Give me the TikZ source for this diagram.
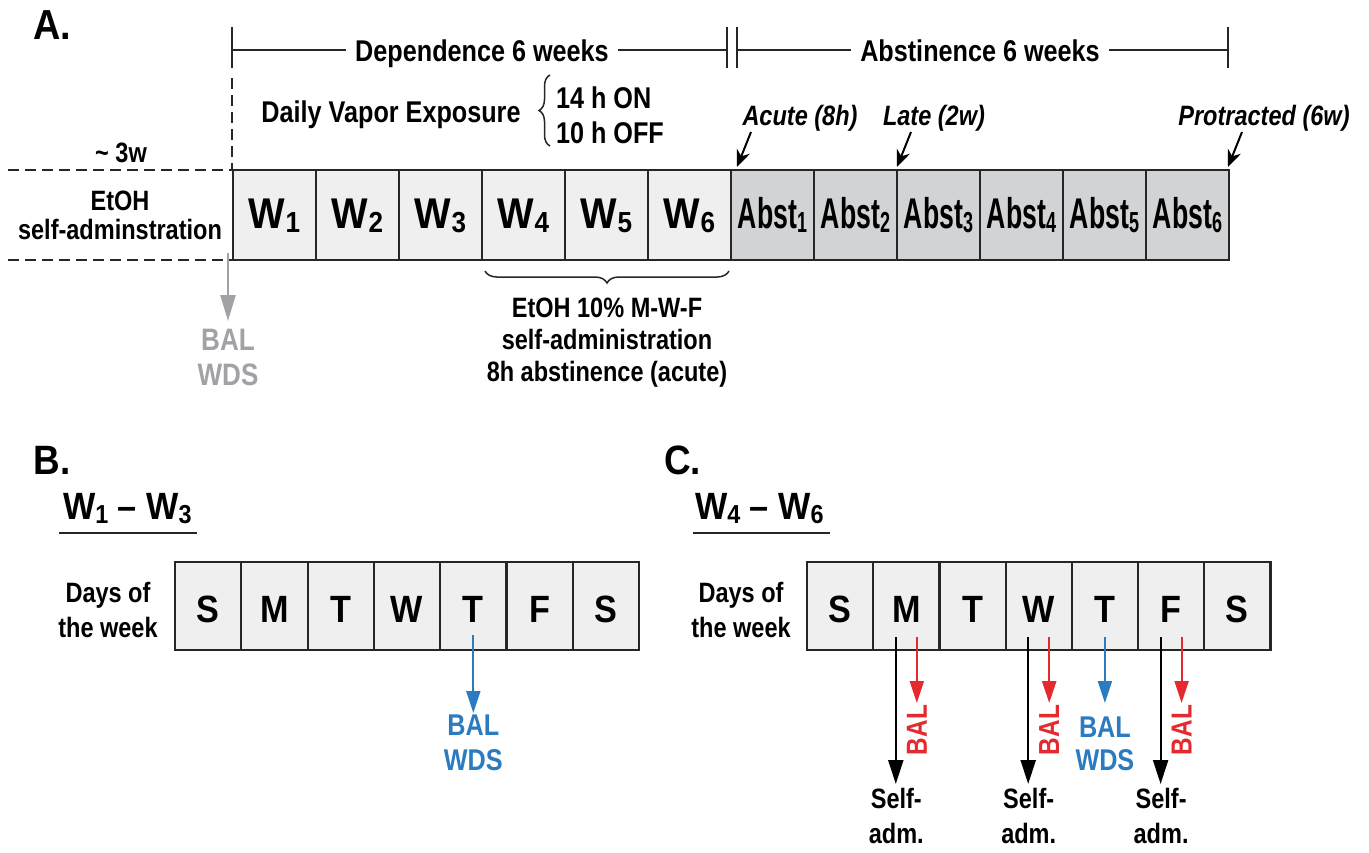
\documentclass[tikz,border=0pt]{standalone}
\usepackage{fontspec}
\setmainfont{Liberation Sans}[FakeStretch=0.84]
\newfontfamily\wfont{Liberation Sans}[FakeStretch=0.9]
\newfontfamily\abfont{Liberation Sans}[FakeStretch=0.62]
\usetikzlibrary{arrows.meta,decorations.pathreplacing,calc}
\definecolor{wfill}{HTML}{EFEFEF}
\definecolor{afill}{HTML}{D1D3D4}
\definecolor{grayc}{HTML}{A0A2A5}
\definecolor{myblue}{HTML}{2B7BC0}
\definecolor{myred}{HTML}{E42A2E}
\definecolor{edge}{HTML}{262626}
\newcommand\fs[1]{\fontsize{#1}{#1}\selectfont\bfseries}
\newcommand\lsub[2]{\raisebox{-4pt}{\fontsize{#1}{#1}\selectfont #2}}
\begin{document}
\begin{tikzpicture}[x=1pt,y=-1pt,
  every node/.style={inner sep=0pt,outer sep=0pt},
  wbox/.style={draw=edge,line width=2.2pt,fill=wfill,minimum width=83pt,minimum height=90pt,text height=26pt,text depth=0pt,font=\wfont\fs{43}},
  abox/.style={wbox,fill=afill,font=\abfont\fs{43}},
  dbox/.style={draw=edge,line width=2.2pt,fill=wfill,minimum width=66.3pt,minimum height=88pt,text height=32pt,text depth=0pt,font=\wfont\fs{38}},
  brk/.style={line width=1.7pt,draw=edge},
  dline/.style={line width=2pt,dash pattern=on 11pt off 6pt,draw=edge},
  sarr/.style={-{Stealth[length=17pt,width=14pt]},line width=2pt},
  blk/.style={-{Triangle[length=24pt,width=15pt]},line width=2.1pt,draw=black},
  redarr/.style={-{Triangle[length=22pt,width=14pt]},line width=2.1pt,draw=myred},
  bluearr/.style={-{Triangle[length=22pt,width=14pt]},line width=2.1pt,draw=myblue},
  grayarr/.style={-{Triangle[length=26pt,width=15pt]},line width=2.2pt,draw=grayc},
  txt/.style={font=\fs{28},anchor=base},
  big/.style={font=\fs{30},anchor=base},
  days/.style={font=\fs{28},anchor=base},
  lab/.style={font=\fs{28}\itshape,anchor=base},
  brc/.style={decorate,line width=1.5pt,draw=edge}
]
\useasboundingbox (0,0) rectangle (1369,852);

% ---------------- Panel A ----------------
\node[font=\wfont\fs{42},anchor=base west] (A) at (33,39) {A.};
\draw[brk] (232,50) -- (727,50);
\draw[brk] (737,50) -- (1228,50);
\draw[brk] (232,27) -- (232,68);
\draw[brk] (727,27) -- (727,68);
\draw[brk] (737,27) -- (737,68);
\draw[brk] (1228,27) -- (1228,68);
\node[big,fill=white,inner xsep=9pt] (dep) at (482,61) {Dependence 6 weeks};
\node[big,fill=white,inner xsep=9pt] (abs) at (980,61) {Abstinence 6 weeks};

\node[big] (dve) at (391,122) {Daily Vapor Exposure};
\draw[brc,decoration={brace,amplitude=11pt}] (550,146) -- (550,75);
\node[font=\fs{30},anchor=base west] (on) at (556,108) {14 h ON};
\node[font=\fs{30},anchor=base west] (off) at (556,143) {10 h OFF};

\draw[dline] (8,170) -- (232,170);
\draw[dline] (8,260) -- (232,260);
\draw[dline] (232,78) -- (232,170);

\node[txt] (tw) at (121,162) {\textasciitilde{} 3w};
\node[txt] (etoh) at (120,210) {EtOH};
\node[txt] (sa) at (120,239) {self-adminstration};

\foreach \i in {1,...,6}{
  \node[wbox] (w\i) at ({233+83*(\i-0.5)},215) {W\lsub{29}{\i}};
  \node[abox] (a\i) at ({731+83*(\i-0.5)},215) {Abst\lsub{29}{\i}};
}

\node[lab] (acute) at (800,125) {Acute (8h)};
\node[lab] (late) at (934,125) {Late (2w)};
\node[lab] (prot) at (1264,125) {Protracted (6w)};
\coordinate (acS) at (751,132); \coordinate (acE) at (737,167);
\coordinate (laS) at (911,132); \coordinate (laE) at (897,167);
\coordinate (prS) at (1242,132); \coordinate (prE) at (1228,167);
\draw[sarr] (acS) -- (acE);
\draw[sarr] (laS) -- (laE);
\draw[sarr] (prS) -- (prE);

\coordinate (gs) at (228,253);
\coordinate (ge) at (228,321);
\draw[grayarr] (gs) -- (ge);
\node[font=\fs{31},text=grayc,anchor=base] (gbal) at (228,350) {BAL};
\node[font=\fs{31},text=grayc,anchor=base] (gwds) at (228,385) {WDS};

\draw[brc,decoration={brace,amplitude=12pt}] (729,271) -- (485,271);
\node[txt] (e1) at (607,317) {EtOH 10\% M-W-F};
\node[txt] (e2) at (607,349) {self-administration};
\node[txt] (e3) at (607,381) {8h abstinence (acute)};

% ---------------- Panel B ----------------
\node[font=\wfont\fs{41},anchor=base west] (B) at (34,474) {B.};
\node[font=\wfont\fs{38},anchor=base west] (wb) at (63,519) {W\lsub{26}{1} \textendash{} W\lsub{26}{3}};
\draw[line width=2.2pt,draw=edge] (59,533) -- (197,533);
\node[days] (db1) at (108,602) {Days of};
\node[days] (db2) at (108,637) {the week};
\foreach \l [count=\i] in {S,M,T,W,T,F,S}
  \node[dbox] (b\i) at ({175+66.3*(\i-0.5)},606) {\l};
\coordinate (bs) at ($(b5.center)+(0,29)$);
\coordinate (be) at ($(b5.center)+(0,107)$);
\draw[bluearr] (bs) -- (be);
\node[font=\fs{30},text=myblue,anchor=base] (bbal) at ($(b5.center)+(0,129)$) {BAL};
\node[font=\fs{30},text=myblue,anchor=base] (bwds) at ($(b5.center)+(0,164)$) {WDS};

% ---------------- Panel C ----------------
\node[font=\wfont\fs{41},anchor=base west] (C) at (664,474) {C.};
\node[font=\wfont\fs{38},anchor=base west] (wc) at (695,519) {W\lsub{26}{4} \textendash{} W\lsub{26}{6}};
\draw[line width=2.2pt,draw=edge] (693,533) -- (830,533);
\node[days] (dc1) at (741,602) {Days of};
\node[days] (dc2) at (741,637) {the week};
\foreach \l [count=\i] in {S,M,T,W,T,F,S}
  \node[dbox,minimum width=66.2pt] (c\i) at ({807+66.2*(\i-0.5)},606) {\l};

\foreach \k in {2,4,6}{
  \coordinate (ks\k) at ($(c\k.center)+(-10.5,31)$);
  \coordinate (ke\k) at ($(c\k.center)+(-10.5,178)$);
  \coordinate (rs\k) at ($(c\k.center)+(10.5,31)$);
  \coordinate (re\k) at ($(c\k.center)+(10.5,97)$);
  \draw[blk] (ks\k) -- (ke\k);
  \draw[redarr] (rs\k) -- (re\k);
  \node[font=\fs{29},text=myred,rotate=90] (rb\k) at ($(c\k.center)+(10.5,124)$) {BAL};
  \node[txt] (sf\k) at ($(c\k.center)+(-10,202)$) {Self-};
  \node[txt] (ad\k) at ($(c\k.center)+(-10,237)$) {adm.};
}
\coordinate (cs5) at ($(c5.center)+(0,31)$);
\coordinate (ce5) at ($(c5.center)+(0,97)$);
\draw[bluearr] (cs5) -- (ce5);
\node[font=\fs{30},text=myblue,anchor=base] (cbal) at ($(c5.center)+(0,131)$) {BAL};
\node[font=\fs{30},text=myblue,anchor=base] (cwds) at ($(c5.center)+(0,164)$) {WDS};
\end{tikzpicture}
\end{document}
